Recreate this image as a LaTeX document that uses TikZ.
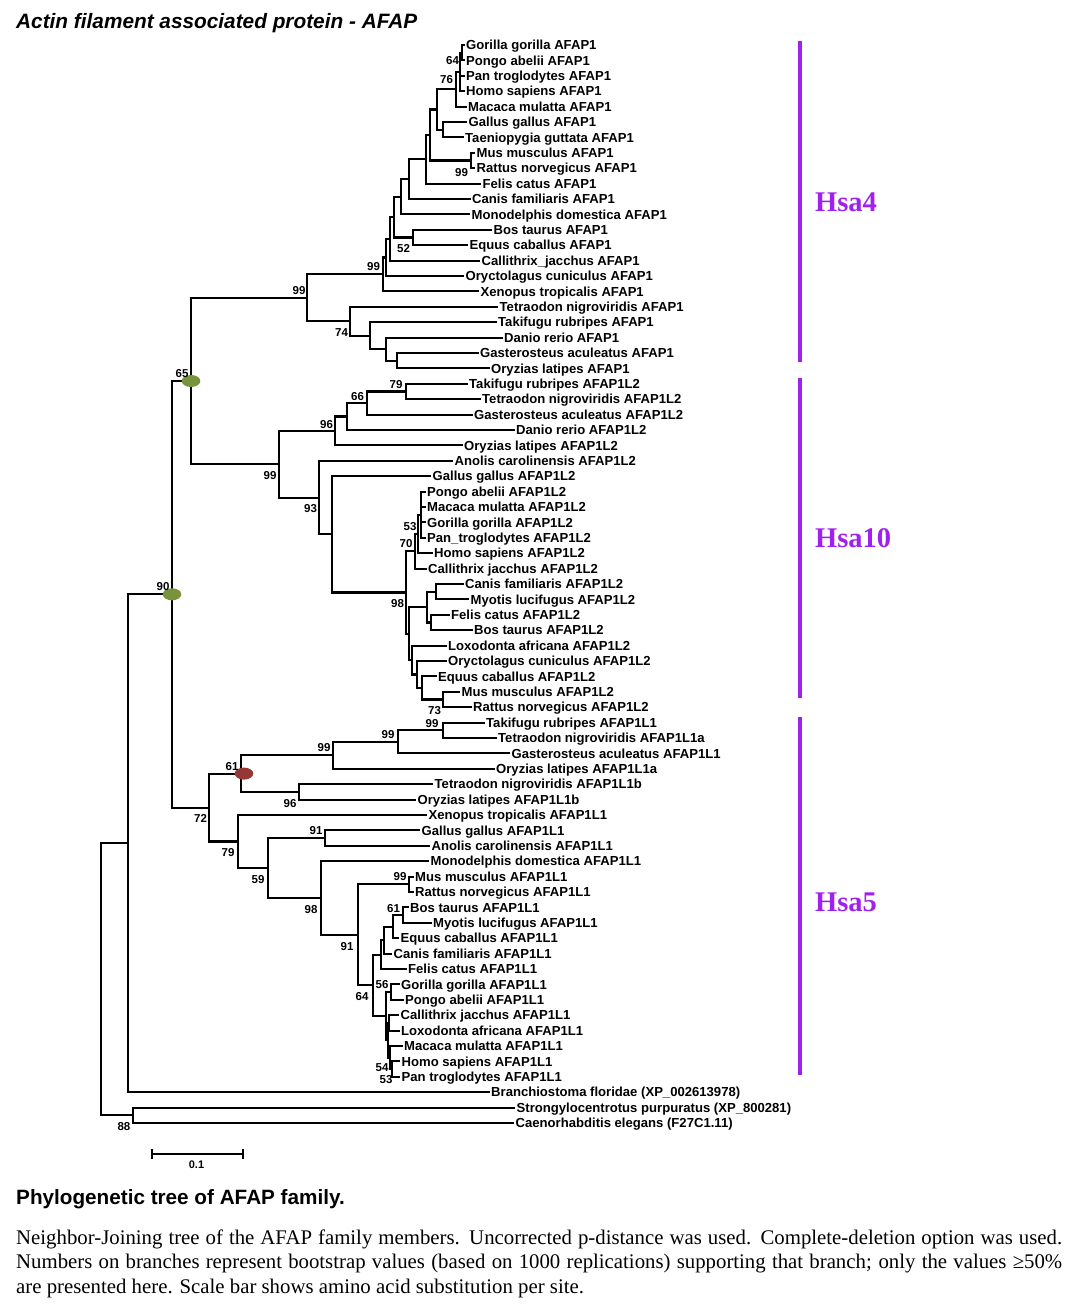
\documentclass[tikz,border=0pt]{standalone}
\usepackage{fontspec}
\setmainfont{Liberation Serif}
\setsansfont{Liberation Sans}
\usetikzlibrary{shapes.geometric}
\definecolor{hsapurple}{RGB}{160,32,240}
\definecolor{dotgreen}{RGB}{119,147,60}
\definecolor{dotred}{RGB}{149,55,53}
\newcommand{\tipfont}{\sffamily\bfseries\fontsize{13.1}{15}\selectfont}
\newcommand{\bsfont}{\sffamily\bfseries\fontsize{11.5}{13}\selectfont}
\newcommand{\tipnode}[3]{\node[tip] (L#1) at ({#2-2.5},{45+15.4*(#1-1)}) {#3};}
\newcommand{\edges}[2]{\foreach \ch in {#2} {\draw[br] (#1) |- (\ch);}}
\tikzset{
 br/.style={line width=2.1pt, line cap=rect},
 tip/.style={anchor=west, inner xsep=2.5pt, inner ysep=0pt, font=\tipfont, text height=9.4pt, text depth=0pt},
 bs/.style={inner sep=0pt, font=\bsfont, text height=8.2pt, text depth=0pt},
 chrbar/.style={line width=4pt, draw=hsapurple},
 chrlab/.style={anchor=base west, inner sep=0pt, text=hsapurple, font=\rmfamily\bfseries\fontsize{28.5}{30}\selectfont},
 dot/.style={ellipse, minimum width=18.6pt, minimum height=12pt, inner sep=0pt},
 caption/.style={anchor=base west, inner sep=0pt, font=\rmfamily\fontsize{20.8}{24}\selectfont},
}
\begin{document}
\begin{tikzpicture}[x=1pt,y=-1pt]
\useasboundingbox (0,0) rectangle (1078,1311);
\fill[white] (0,0) rectangle (1078,1311);

% title
\node[anchor=base west, inner sep=0pt, font=\sffamily\bfseries\itshape\fontsize{20.8}{24}\selectfont] (title) at (16,28.5) {Actin filament associated protein - AFAP};

% leaves
\tipnode{1}{466}{Gorilla gorilla AFAP1}
\tipnode{2}{466}{Pongo abelii AFAP1}
\tipnode{3}{466}{Pan troglodytes AFAP1}
\tipnode{4}{466}{Homo sapiens AFAP1}
\tipnode{5}{468}{Macaca mulatta AFAP1}
\tipnode{6}{468.5}{Gallus gallus AFAP1}
\tipnode{7}{465}{Taeniopygia guttata AFAP1}
\tipnode{8}{476.5}{Mus musculus AFAP1}
\tipnode{9}{476.5}{Rattus norvegicus AFAP1}
\tipnode{10}{482.5}{Felis catus AFAP1}
\tipnode{11}{472}{Canis familiaris AFAP1}
\tipnode{12}{471.5}{Monodelphis domestica AFAP1}
\tipnode{13}{493.5}{Bos taurus AFAP1}
\tipnode{14}{469.5}{Equus caballus AFAP1}
\tipnode{15}{481.5}{Callithrix\_jacchus AFAP1}
\tipnode{16}{465.5}{Oryctolagus cuniculus AFAP1}
\tipnode{17}{480.5}{Xenopus tropicalis AFAP1}
\tipnode{18}{499.5}{Tetraodon nigroviridis AFAP1}
\tipnode{19}{498}{Takifugu rubripes AFAP1}
\tipnode{20}{504}{Danio rerio AFAP1}
\tipnode{21}{480}{Gasterosteus aculeatus AFAP1}
\tipnode{22}{491}{Oryzias latipes AFAP1}
\tipnode{23}{469}{Takifugu rubripes AFAP1L2}
\tipnode{24}{482}{Tetraodon nigroviridis AFAP1L2}
\tipnode{25}{474}{Gasterosteus aculeatus AFAP1L2}
\tipnode{26}{516}{Danio rerio AFAP1L2}
\tipnode{27}{464}{Oryzias latipes AFAP1L2}
\tipnode{28}{454.5}{Anolis carolinensis AFAP1L2}
\tipnode{29}{432.5}{Gallus gallus AFAP1L2}
\tipnode{30}{427}{Pongo abelii AFAP1L2}
\tipnode{31}{427}{Macaca mulatta AFAP1L2}
\tipnode{32}{427}{Gorilla gorilla AFAP1L2}
\tipnode{33}{427}{Pan\_troglodytes AFAP1L2}
\tipnode{34}{434}{Homo sapiens AFAP1L2}
\tipnode{35}{428}{Callithrix jacchus AFAP1L2}
\tipnode{36}{465}{Canis familiaris AFAP1L2}
\tipnode{37}{470.5}{Myotis lucifugus AFAP1L2}
\tipnode{38}{451}{Felis catus AFAP1L2}
\tipnode{39}{474}{Bos taurus AFAP1L2}
\tipnode{40}{448}{Loxodonta africana AFAP1L2}
\tipnode{41}{448}{Oryctolagus cuniculus AFAP1L2}
\tipnode{42}{438}{Equus caballus AFAP1L2}
\tipnode{43}{461.5}{Mus musculus AFAP1L2}
\tipnode{44}{473}{Rattus norvegicus AFAP1L2}
\tipnode{45}{486}{Takifugu rubripes AFAP1L1}
\tipnode{46}{498}{Tetraodon nigroviridis AFAP1L1a}
\tipnode{47}{511.5}{Gasterosteus aculeatus AFAP1L1}
\tipnode{48}{496}{Oryzias latipes AFAP1L1a}
\tipnode{49}{434.5}{Tetraodon nigroviridis AFAP1L1b}
\tipnode{50}{417.5}{Oryzias latipes AFAP1L1b}
\tipnode{51}{428.5}{Xenopus tropicalis AFAP1L1}
\tipnode{52}{421.5}{Gallus gallus AFAP1L1}
\tipnode{53}{431.5}{Anolis carolinensis AFAP1L1}
\tipnode{54}{430.5}{Monodelphis domestica AFAP1L1}
\tipnode{55}{415}{Mus musculus AFAP1L1}
\tipnode{56}{415}{Rattus norvegicus AFAP1L1}
\tipnode{57}{410}{Bos taurus AFAP1L1}
\tipnode{58}{433}{Myotis lucifugus AFAP1L1}
\tipnode{59}{400.5}{Equus caballus AFAP1L1}
\tipnode{60}{393.5}{Canis familiaris AFAP1L1}
\tipnode{61}{408}{Felis catus AFAP1L1}
\tipnode{62}{401}{Gorilla gorilla AFAP1L1}
\tipnode{63}{405}{Pongo abelii AFAP1L1}
\tipnode{64}{400.5}{Callithrix jacchus AFAP1L1}
\tipnode{65}{401}{Loxodonta africana AFAP1L1}
\tipnode{66}{404}{Macaca mulatta AFAP1L1}
\tipnode{67}{401.5}{Homo sapiens AFAP1L1}
\tipnode{68}{401.5}{Pan troglodytes AFAP1L1}
\tipnode{69}{491}{Branchiostoma floridae (XP\_002613978)}
\tipnode{70}{516.5}{Strongylocentrotus purpuratus (XP\_800281)}
\tipnode{71}{515.5}{Caenorhabditis elegans (F27C1.11)}

% internal nodes: AFAP1
\coordinate (a64) at (462,52.7);
\coordinate (aPri) at (460,71.95);
\coordinate (a76) at (456,89.3);
\coordinate (aBird) at (443,129.7);
\coordinate (aC) at (437,109.5);
\coordinate (aMR) at (471,160.5);
\coordinate (aD) at (430,135);
\coordinate (aE) at (426,159.3);
\coordinate (aF) at (409,179.15);
\coordinate (aG) at (401,196.8);
\coordinate (aBE) at (413,237.5);
\coordinate (aH) at (394,217.15);
\coordinate (aI) at (390,238.9);
\coordinate (aJ) at (386,257.45);
\coordinate (aK) at (383,274.4);
\coordinate (aGO) at (397,360.7);
\coordinate (aDGO) at (386,349.15);
\coordinate (aT) at (370,335.7);
\coordinate (a74) at (350,321.25);
\coordinate (a99) at (307,297.8);
% AFAP1L2
\coordinate (b79) at (406,391.5);
\coordinate (b66) at (367,403.05);
\coordinate (bX) at (347,416.5);
\coordinate (b96) at (335,430.95);
\coordinate (bP1) at (421,514.7);
\coordinate (b70) at (418,533.95);
\coordinate (bPC) at (415,551.3);
\coordinate (bCM) at (436,591.7);
\coordinate (bFB) at (431,622.5);
\coordinate (bLaur) at (427,607.1);
\coordinate (b73) at (443,699.5);
\coordinate (bEq) at (422,687.95);
\coordinate (bOr) at (417,674.5);
\coordinate (bLx) at (412,660.05);
\coordinate (bR) at (409,633.6);
\coordinate (bZ) at (406,592.45);
\coordinate (bY) at (332,534.3);
\coordinate (b93) at (319,497.55);
\coordinate (b99) at (279,464.25);
\coordinate (g65) at (191,381);
% AFAP1L1
\coordinate (c99a) at (443,730.3);
\coordinate (c99b) at (398,741.85);
\coordinate (c99c) at (333,755.3);
\coordinate (c96) at (299,791.9);
\coordinate (r61) at (241,773.6);
\coordinate (c91) at (325,838.1);
\coordinate (cMR) at (409,884.3);
\coordinate (c61) at (403,915.1);
\coordinate (cBME) at (393,926.65);
\coordinate (cCan) at (384,940.1);
\coordinate (cLaur) at (381,954.55);
\coordinate (c56) at (391,992.1);
\coordinate (cCL) at (389,1022.9);
\coordinate (c53) at (392,1069.1);
\coordinate (c54) at (390,1057.55);
\coordinate (cPr1b) at (388,1040.2);
\coordinate (cPrim) at (386,1016.15);
\coordinate (c64) at (373,985.35);
\coordinate (c91b) at (358,934.8);
\coordinate (c98) at (321,898);
\coordinate (c59) at (268,868.05);
\coordinate (c79) at (238,841.5);
\coordinate (c72) at (209,807.55);
% root part
\coordinate (g90) at (172,594.3);
\coordinate (nB0) at (128,843.25);
\coordinate (c88) at (133,1115.3);
\coordinate (root) at (101,979.3);

% branches
\edges{a64}{L1.west,L2.west}
\edges{aPri}{a64,L3.west,L4.west}
\edges{a76}{aPri,L5.west}
\edges{aBird}{L6.west,L7.west}
\edges{aC}{a76,aBird}
\edges{aMR}{L8.west,L9.west}
\edges{aD}{aC,aMR}
\edges{aE}{aD,L10.west}
\edges{aF}{aE,L11.west}
\edges{aG}{aF,L12.west}
\edges{aBE}{L13.west,L14.west}
\edges{aH}{aG,aBE}
\edges{aI}{aH,L15.west}
\edges{aJ}{aI,L16.west}
\edges{aK}{aJ,L17.west}
\edges{aGO}{L21.west,L22.west}
\edges{aDGO}{L20.west,aGO}
\edges{aT}{L19.west,aDGO}
\edges{a74}{L18.west,aT}
\edges{a99}{aK,a74}
\edges{b79}{L23.west,L24.west}
\edges{b66}{b79,L25.west}
\edges{bX}{b66,L26.west}
\edges{b96}{bX,L27.west}
\edges{bP1}{L30.west,L31.west,L32.west,L33.west}
\edges{b70}{bP1,L34.west}
\edges{bPC}{b70,L35.west}
\edges{bCM}{L36.west,L37.west}
\edges{bFB}{L38.west,L39.west}
\edges{bLaur}{bCM,bFB}
\edges{b73}{L43.west,L44.west}
\edges{bEq}{L42.west,b73}
\edges{bOr}{L41.west,bEq}
\edges{bLx}{L40.west,bOr}
\edges{bR}{bLaur,bLx}
\edges{bZ}{bPC,bR}
\edges{bY}{L29.west,bZ}
\edges{b93}{L28.west,bY}
\edges{b99}{b96,b93}
\edges{g65}{a99,b99}
\edges{c99a}{L45.west,L46.west}
\edges{c99b}{c99a,L47.west}
\edges{c99c}{c99b,L48.west}
\edges{c96}{L49.west,L50.west}
\edges{r61}{c99c,c96}
\edges{c91}{L52.west,L53.west}
\edges{cMR}{L55.west,L56.west}
\edges{c61}{L57.west,L58.west}
\edges{cBME}{c61,L59.west}
\edges{cCan}{cBME,L60.west}
\edges{cLaur}{cCan,L61.west}
\edges{c56}{L62.west,L63.west}
\edges{cCL}{L64.west,L65.west}
\edges{c53}{L67.west,L68.west}
\edges{c54}{L66.west,c53}
\edges{cPr1b}{cCL,c54}
\edges{cPrim}{c56,cPr1b}
\edges{c64}{cLaur,cPrim}
\edges{c91b}{cMR,c64}
\edges{c98}{L54.west,c91b}
\edges{c59}{c91,c98}
\edges{c79}{L51.west,c59}
\edges{c72}{r61,c79}
\edges{g90}{g65,c72}
\edges{nB0}{g90,L69.west}
\edges{c88}{L70.west,L71.west}
\edges{root}{nB0,c88}

% coloured node markers
\node[dot, fill=dotgreen] (dot65) at (g65) {};
\node[dot, fill=dotgreen] (dot90) at (g90) {};
\node[dot, fill=dotred] (dot61) at ([xshift=3pt]r61) {};

% bootstrap values
\node[bs] (bs1) at (452.5,60) {64};
\node[bs] (bs2) at (446.5,79) {76};
\node[bs] (bs3) at (461.5,172) {99};
\node[bs] (bs4) at (403.5,248) {52};
\node[bs] (bs5) at (373.5,266) {99};
\node[bs] (bs6) at (299,290) {99};
\node[bs] (bs7) at (341.5,332) {74};
\node[bs] (bs8) at (182,373) {65};
\node[bs] (bs9) at (396,384) {79};
\node[bs] (bs10) at (357.5,396) {66};
\node[bs] (bs11) at (326.5,424) {96};
\node[bs] (bs12) at (270,475) {99};
\node[bs] (bs13) at (310.5,508) {93};
\node[bs] (bs14) at (410,526) {53};
\node[bs] (bs15) at (406,543) {70};
\node[bs] (bs16) at (397.5,603) {98};
\node[bs] (bs17) at (434.5,710) {73};
\node[bs] (bs18) at (432,723) {99};
\node[bs] (bs19) at (388,734.5) {99};
\node[bs] (bs20) at (324,747.5) {99};
\node[bs] (bs21) at (232,766) {61};
\node[bs] (bs22) at (290,803) {96};
\node[bs] (bs23) at (200.5,818) {72};
\node[bs] (bs24) at (316,830.5) {91};
\node[bs] (bs25) at (228,852) {79};
\node[bs] (bs26) at (258,879) {59};
\node[bs] (bs27) at (400,876) {99};
\node[bs] (bs28) at (393.5,908) {61};
\node[bs] (bs29) at (311,909) {98};
\node[bs] (bs30) at (347,946) {91};
\node[bs] (bs31) at (382,984.5) {56};
\node[bs] (bs32) at (362,996) {64};
\node[bs] (bs33) at (382,1067.5) {54};
\node[bs] (bs34) at (386,1079.5) {53};
\node[bs] (bs35) at (163,586) {90};
\node[bs] (bs36) at (124,1126) {88};

% scale bar
\coordinate (sb1) at (151.5,1154);
\coordinate (sb2) at (242.5,1154);
\coordinate (sb1t) at (151.5,1149);
\coordinate (sb1b) at (151.5,1159);
\coordinate (sb2t) at (242.5,1149);
\coordinate (sb2b) at (242.5,1159);
\draw[line width=2.4pt] (sb1) -- (sb2);
\draw[line width=2pt] (sb1t) -- (sb1b);
\draw[line width=2pt] (sb2t) -- (sb2b);
\node[bs, font=\sffamily\bfseries\fontsize{11}{12}\selectfont, text height=7.9pt] (sblab) at (196.5,1165) {0.1};

% chromosome bars and labels
\coordinate (h4t) at (800,41);
\coordinate (h4b) at (800,362);
\coordinate (h10t) at (800,378);
\coordinate (h10b) at (800,698);
\coordinate (h5t) at (800,717);
\coordinate (h5b) at (800,1075);
\draw[chrbar] (h4t) -- (h4b);
\draw[chrbar] (h10t) -- (h10b);
\draw[chrbar] (h5t) -- (h5b);
\node[chrlab] (hsa4) at (815,211) {Hsa4};
\node[chrlab] (hsa10) at (815,547) {Hsa10};
\node[chrlab] (hsa5) at (815,911) {Hsa5};

% captions
\node[anchor=base west, inner sep=0pt, font=\sffamily\bfseries\fontsize{20.7}{24}\selectfont] (subtitle) at (16,1204.5) {Phylogenetic tree of AFAP family.};
\node[caption] (cap1) at (16,1244) {\makebox[1046pt][s]{Neighbor-Joining tree of the AFAP family members. Uncorrected p-distance was used. Complete-deletion option was used.}};
\node[caption] (cap2) at (16,1268.5) {\makebox[1046pt][s]{Numbers on branches represent bootstrap values (based on 1000 replications) supporting that branch; only the values ≥50\%}};
\node[caption] (cap3) at (16,1293) {are presented here. Scale bar shows amino acid substitution per site.};
\end{tikzpicture}
\end{document}
